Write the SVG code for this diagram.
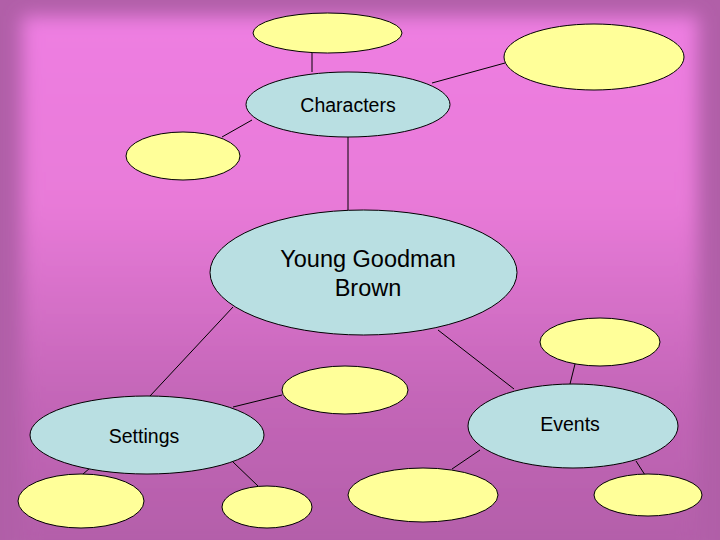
<svg xmlns="http://www.w3.org/2000/svg" width="720" height="540" viewBox="0 0 720 540">
<defs>
<linearGradient id="bg" x1="0" y1="0" x2="0" y2="1">
<stop offset="0" stop-color="#ee7ee2"/>
<stop offset="0.35" stop-color="#e87ad8"/>
<stop offset="0.7" stop-color="#c466b8"/>
<stop offset="1" stop-color="#b25ea8"/>
</linearGradient>
<filter id="soft" x="-10%" y="-10%" width="120%" height="120%">
<feGaussianBlur stdDeviation="9"/>
</filter>
</defs>
<style>
.y{fill:#ffff99;stroke:#000;stroke-width:1}
.b{fill:#b9dfe2;stroke:#000;stroke-width:1}
.c line{stroke:#000;stroke-width:1}
text{font-family:"Liberation Sans",Arial,sans-serif;fill:#000;text-anchor:middle}
</style>
<rect width="720" height="540" fill="#b15fa8"/>
<rect x="22" y="16" width="676" height="540" fill="url(#bg)" filter="url(#soft)"/>
<g class="c" id="connectors">
<line x1="312" y1="53" x2="312" y2="72"/>
<line x1="432" y1="83" x2="505" y2="63"/>
<line x1="252" y1="120" x2="222" y2="137"/>
<line x1="348" y1="137" x2="348" y2="210"/>
<line x1="233" y1="307" x2="150" y2="396"/>
<line x1="233" y1="407" x2="282" y2="395"/>
<line x1="90" y1="468" x2="83" y2="474"/>
<line x1="233" y1="462" x2="258" y2="486"/>
<line x1="438" y1="330" x2="514" y2="389"/>
<line x1="570" y1="384" x2="575" y2="364"/>
<line x1="480" y1="450" x2="452" y2="469"/>
<line x1="636" y1="461" x2="645" y2="475"/>
</g>
<g id="n-top"><ellipse class="y" cx="327.5" cy="33" rx="74.5" ry="20"/></g>
<g id="n-topright"><ellipse class="y" cx="594" cy="57" rx="90" ry="33"/></g>
<g id="n-characters"><ellipse class="b" cx="348" cy="104.5" rx="102" ry="32.5"/><text x="348" y="112" font-size="19.5">Characters</text></g>
<g id="n-left"><ellipse class="y" cx="183" cy="156" rx="57" ry="24"/></g>
<g id="n-ygb"><ellipse class="b" cx="363.5" cy="272.5" rx="153.5" ry="62.5"/><text x="368" y="267" font-size="23.5">Young Goodman</text><text x="368" y="296" font-size="23.5">Brown</text></g>
<g id="n-mid"><ellipse class="y" cx="345" cy="390" rx="63" ry="24"/></g>
<g id="n-settings"><ellipse class="b" cx="147" cy="435" rx="117" ry="39"/><text x="144" y="443" font-size="19.5">Settings</text></g>
<g id="n-bl"><ellipse class="y" cx="81" cy="501" rx="63" ry="27"/></g>
<g id="n-b2"><ellipse class="y" cx="267" cy="507" rx="45" ry="21"/></g>
<g id="n-b3"><ellipse class="y" cx="423" cy="495" rx="75" ry="27"/></g>
<g id="n-eventstop"><ellipse class="y" cx="600" cy="342" rx="60" ry="24"/></g>
<g id="n-events"><ellipse class="b" cx="573" cy="426" rx="105" ry="42"/><text x="570" y="431" font-size="19.5">Events</text></g>
<g id="n-br"><ellipse class="y" cx="648" cy="495" rx="54" ry="21"/></g>
</svg>
